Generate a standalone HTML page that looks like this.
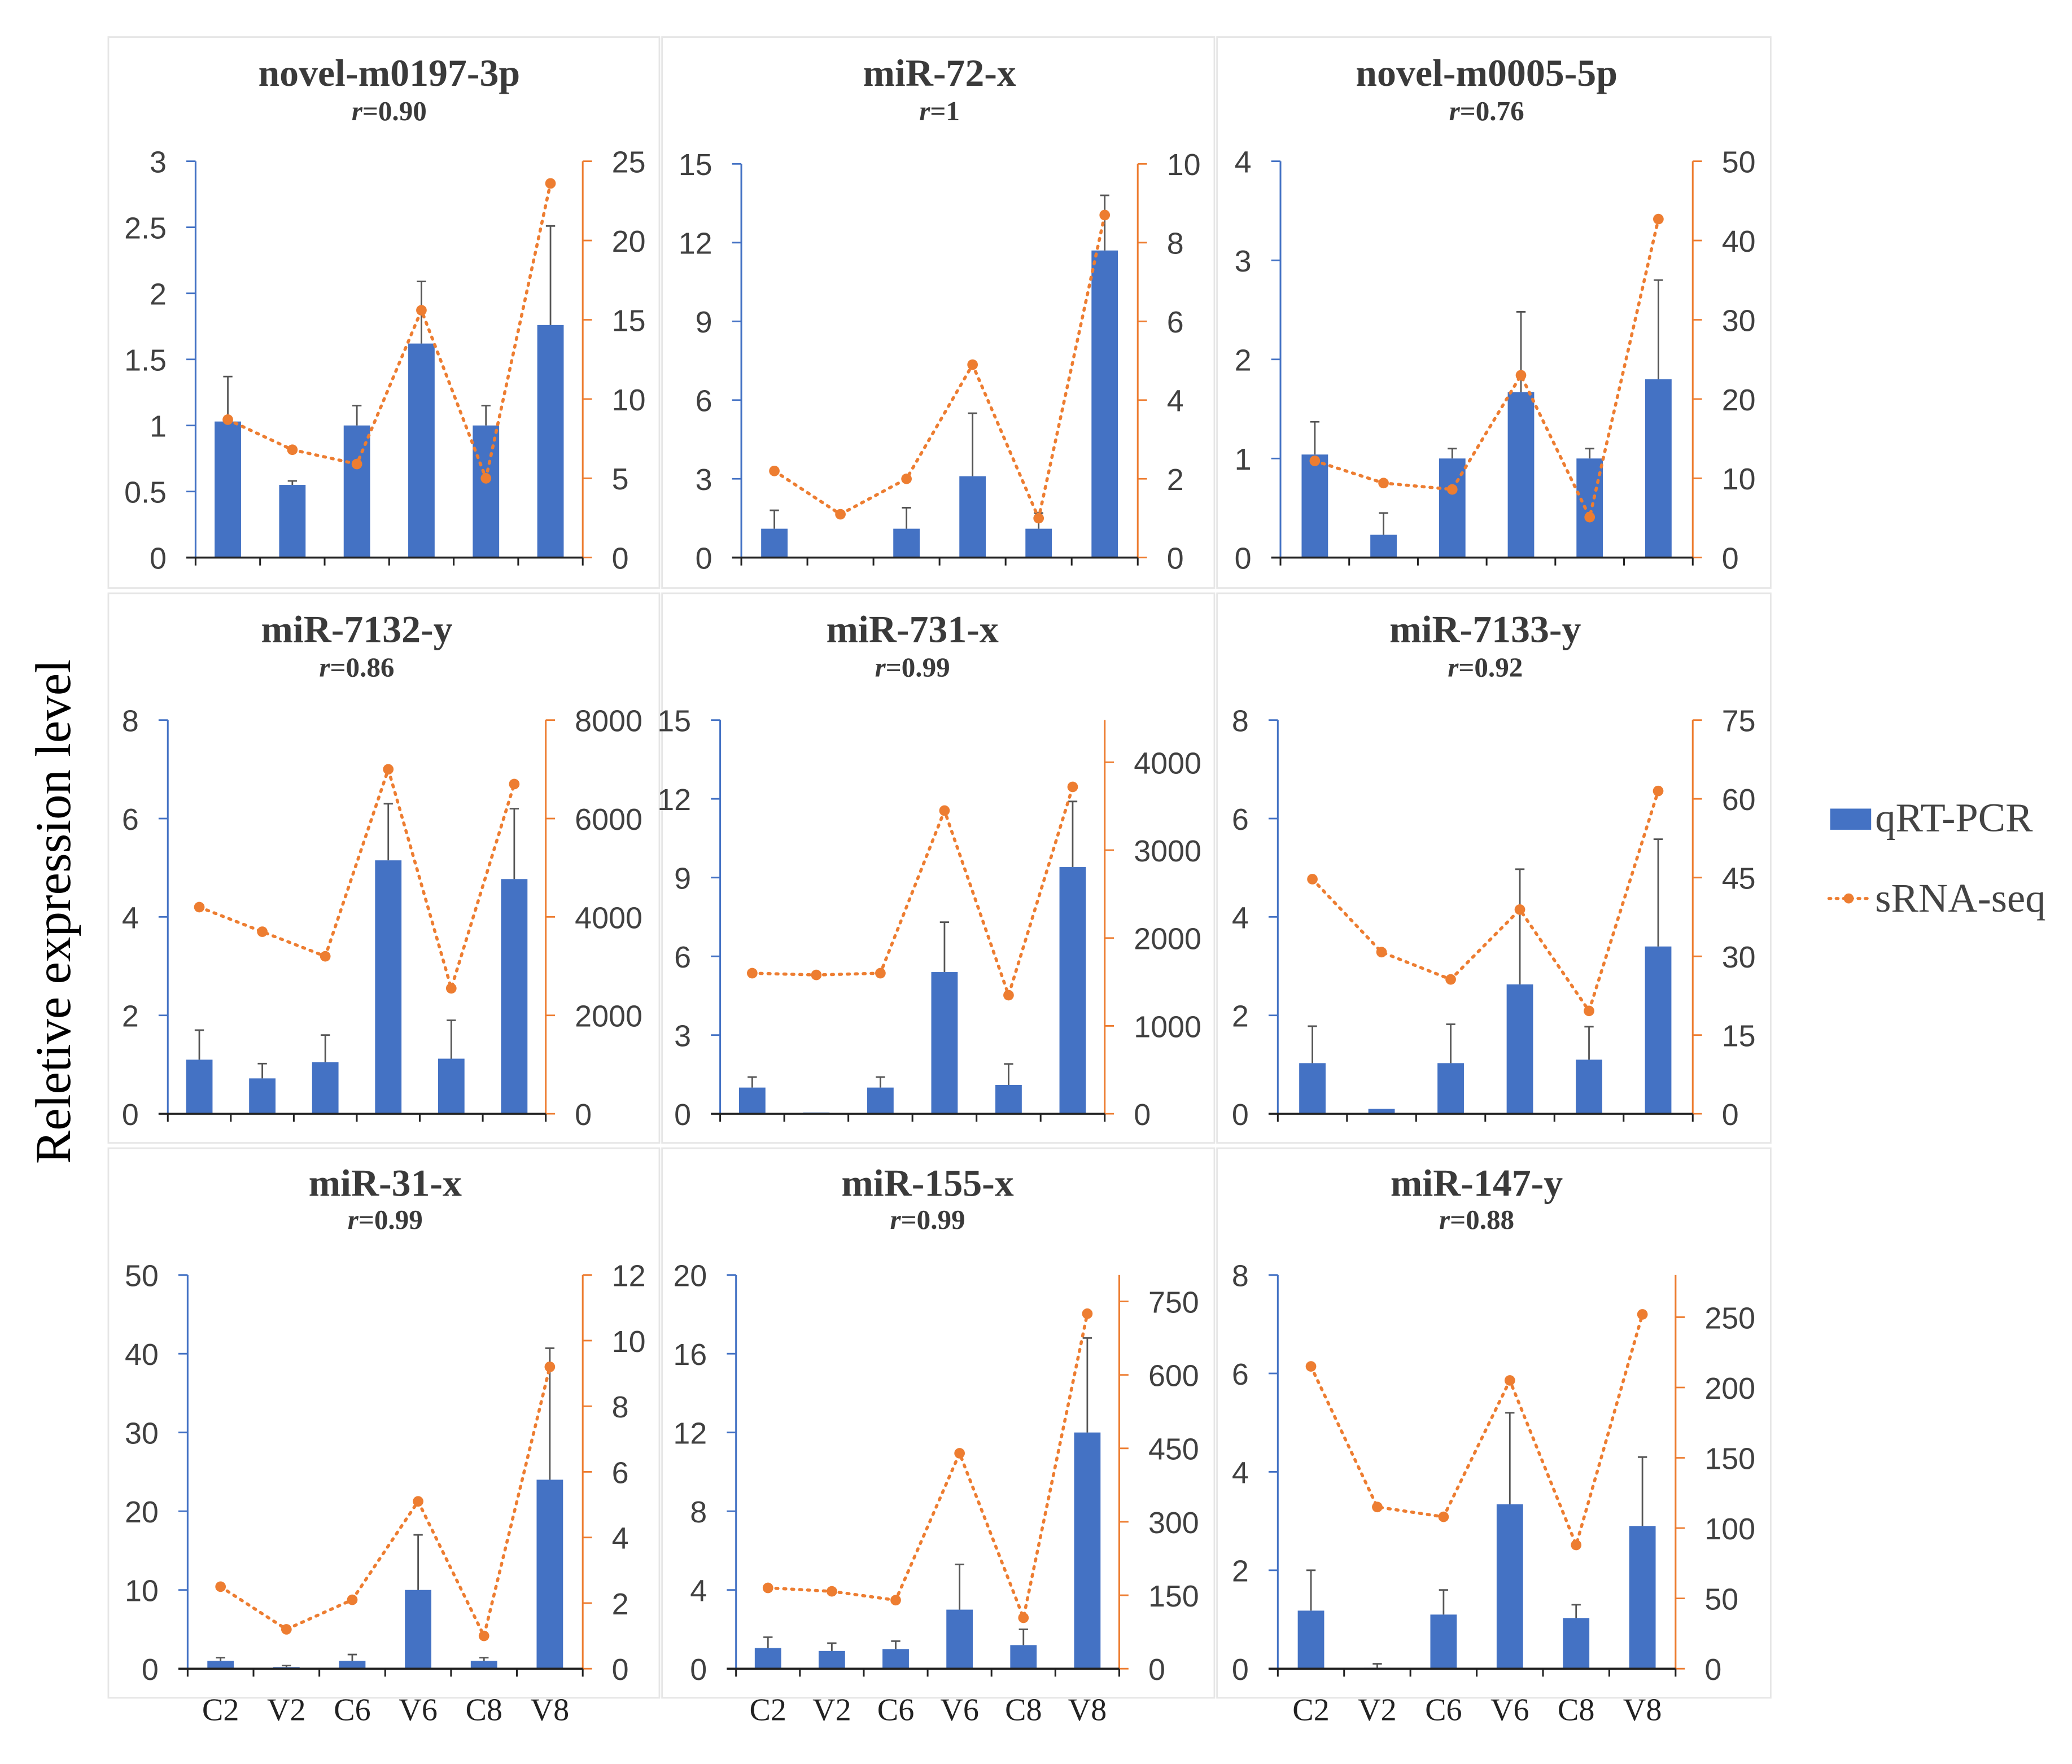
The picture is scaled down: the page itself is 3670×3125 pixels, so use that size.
<!DOCTYPE html>
<html><head><meta charset="utf-8"><style>
html,body{margin:0;padding:0;background:#fff;}
svg{display:block;}
</style></head><body>
<svg id="fig" width="3670" height="3125" viewBox="0 0 1568 1335.1" xmlns="http://www.w3.org/2000/svg">
<g id="panels"></g>
<text transform="translate(53,690) rotate(-90)" text-anchor="middle" font-family="Liberation Serif, serif" font-size="38" fill="#000">Reletive expression level</text>
<g>
<g>
<rect x="1385" y="612" width="31" height="16" fill="#4472C4"/>
<text x="1419" y="629" font-family="Liberation Serif, serif" font-size="31" fill="#444">qRT-PCR</text>
</g>
<g>
<line x1="1384" y1="680" x2="1414" y2="680" stroke="#ED7D31" stroke-width="2.2" stroke-dasharray="1.5 4" stroke-linecap="round"/>
<circle cx="1399" cy="680" r="3.8" fill="#ED7D31"/>
<text x="1419" y="690" font-family="Liberation Serif, serif" font-size="31" fill="#444">sRNA-seq</text>
</g>
</g>
</svg>
<script>
const categories = ["C2","V2","C6","V6","C8","V8"];
const titles = ["novel-m0197-3p","miR-72-x","novel-m0005-5p","miR-7132-y","miR-731-x","miR-7133-y","miR-31-x","miR-155-x","miR-147-y"];
const rValues = ["0.90","1","0.76","0.86","0.99","0.92","0.99","0.99","0.88"];
const qpcrBars = [
 [1.03,0.55,1.0,1.62,1.0,1.76],
 [1.1,0,1.1,3.1,1.1,11.7],
 [1.04,0.23,1.0,1.67,1.0,1.8],
 [1.1,0.72,1.05,5.15,1.12,4.77],
 [1.0,0.05,1.0,5.4,1.1,9.4],
 [1.03,0.1,1.03,2.63,1.1,3.4],
 [1.0,0.2,1.0,10,1.0,24],
 [1.05,0.9,1.0,3.0,1.2,12.0],
 [1.18,0.02,1.1,3.34,1.03,2.9]];
const qpcrErrTop = [
 [1.37,0.58,1.15,2.09,1.15,2.51],
 [1.8,0,1.9,5.5,1.7,13.8],
 [1.37,0.45,1.1,2.48,1.1,2.8],
 [1.7,1.02,1.6,6.3,1.9,6.2],
 [1.4,0.05,1.4,7.3,1.9,11.9],
 [1.78,0.1,1.82,4.97,1.77,5.58],
 [1.4,0.4,1.8,17,1.4,40.7],
 [1.6,1.3,1.4,5.3,2.0,16.8],
 [2.0,0.1,1.6,5.2,1.3,4.3]];
const seqValues = [
 [8.7,6.8,5.9,15.6,5.0,23.6],
 [2.2,1.1,2.0,4.9,1.0,8.7],
 [12.2,9.4,8.6,23,5.1,42.7],
 [4200,3700,3200,7000,2550,6700],
 [1600,1580,1600,3450,1350,3720],
 [44.7,30.8,25.6,38.9,19.6,61.5],
 [2.5,1.2,2.1,5.1,1.0,9.2],
 [165,158,140,440,104,725],
 [215,115,108,205,88,252]];
const leftTicks = [
 ["0","0.5","1","1.5","2","2.5","3"],
 ["0","3","6","9","12","15"],
 ["0","1","2","3","4"],
 ["0","2","4","6","8"],
 ["0","3","6","9","12","15"],
 ["0","2","4","6","8"],
 ["0","10","20","30","40","50"],
 ["0","4","8","12","16","20"],
 ["0","2","4","6","8"]];
const leftMax = [3,15,4,8,15,8,50,20,8];
const rightTicks = [
 ["0","5","10","15","20","25"],
 ["0","2","4","6","8","10"],
 ["0","10","20","30","40","50"],
 ["0","2000","4000","6000","8000"],
 ["0","1000","2000","3000","4000"],
 ["0","15","30","45","60","75"],
 ["0","2","4","6","8","10","12"],
 ["0","150","300","450","600","750"],
 ["0","50","100","150","200","250"]];
const rightMax = [25,10,50,8000,4480,75,12,804,280];

const boxes = [[82,28,417,417],[501,28,418,417],[921,28,419,417],[82,449,417,416],[501,449,418,416],[921,449,419,416],[82,869,417,416],[501,869,418,416],[921,869,419,416]];
const plotArea = [[148,441,122,422],[561,861,124,422],[969,1281,122,422],[127,413,545,843],[545,836,545,843],[967,1281,545,843],[142,441,965,1263],[557,847,965,1263],[967,1268,965,1263]];
const titleY = [[55,84],[55,84],[55,84],[476,505],[476,505],[476,505],[895,923],[895,923],[895,923]];

const NS="http://www.w3.org/2000/svg";
const root=document.getElementById('panels');
function el(tag,attrs,parent){const e=document.createElementNS(NS,tag);for(const k in attrs)e.setAttribute(k,attrs[k]);parent.appendChild(e);return e;}

titles.forEach((t,i)=>{
 const g=el('g',{},root);
 
 
 const b=boxes[i];
 const frame=el('rect',{x:b[0],y:b[1],width:b[2],height:b[3],fill:'none',stroke:'#e6e6e6','stroke-width':1.2},g);
 
 
 const [x0,x1,yT,yB]=plotArea[i];
 const cx=(x0+x1)/2;
 const tt=el('text',{x:cx,y:titleY[i][0]+10,'text-anchor':'middle','font-family':'Liberation Serif, serif','font-weight':'bold','font-size':29,fill:'#3a3a3a'},g);
 tt.textContent=t;
 
 
 const rt=el('text',{x:cx,y:titleY[i][1]+7,'text-anchor':'middle','font-family':'Liberation Serif, serif','font-weight':'bold','font-size':21,fill:'#3a3a3a'},g);
 rt.innerHTML='<tspan font-style="italic">r</tspan>='+rValues[i];
 
 
 const yL=v=>yB-(v/leftMax[i])*(yB-yT);
 const yR=v=>yB-(v/rightMax[i])*(yB-yT);
 const step=(x1-x0)/categories.length;
 const xC=k=>x0+step*(k+0.5);
 const la=el('line',{x1:x0,y1:yT,x2:x0,y2:yB,stroke:'#4472C4','stroke-width':1.3},g);
 
 
 leftTicks[i].forEach(s=>{const v=parseFloat(s);const y=yL(v);
  el('line',{x1:x0-7,y1:y,x2:x0,y2:y,stroke:'#4472C4','stroke-width':1.2},g);
  const tx=el('text',{x:x0-22,y:y+8.5,'text-anchor':'end','font-family':'Liberation Sans, sans-serif','font-size':23,fill:'#404040'},g);
  tx.textContent=s;
  
  });
 const ra=el('line',{x1:x1,y1:yT,x2:x1,y2:yB,stroke:'#ED7D31','stroke-width':1.3},g);
 
 
 rightTicks[i].forEach(s=>{const v=parseFloat(s);const y=yR(v);
  el('line',{x1:x1,y1:y,x2:x1+7,y2:y,stroke:'#ED7D31','stroke-width':1.2},g);
  const tx=el('text',{x:x1+22,y:y+8.5,'text-anchor':'start','font-family':'Liberation Sans, sans-serif','font-size':23,fill:'#404040'},g);
  tx.textContent=s;
  
  });
 categories.forEach((c,k)=>{
  const v=qpcrBars[i][k];const bw=20;
  const r=el('rect',{x:xC(k)-bw/2,y:yL(v),width:bw,height:yB-yL(v),fill:'#4472C4'},g);
  
  
  const e=qpcrErrTop[i][k];
  if(e>v){
   const eg=el('g',{stroke:'#555','stroke-width':1.2},g);
   
   
   el('line',{x1:xC(k),y1:yL(v),x2:xC(k),y2:yL(e)},eg);
   el('line',{x1:xC(k)-3.5,y1:yL(e),x2:xC(k)+3.5,y2:yL(e)},eg);
  }
 });
 const xa=el('line',{x1:x0-7,y1:yB,x2:x1,y2:yB,stroke:'#222','stroke-width':1.5},g);
 
 
 for(let k=0;k<=categories.length;k++){el('line',{x1:x0+step*k,y1:yB,x2:x0+step*k,y2:yB+6,stroke:'#222','stroke-width':1.3},g);}
 if(i>=6){categories.forEach((c,k)=>{
  const tx=el('text',{x:xC(k),y:1302,'text-anchor':'middle','font-family':'Liberation Serif, serif','font-size':24,fill:'#222'},g);
  tx.textContent=c;
  
  });}
 const pts=seqValues[i].map((v,k)=>xC(k)+','+yR(v)).join(' ');
 const pl=el('polyline',{points:pts,fill:'none',stroke:'#ED7D31','stroke-width':2.4,'stroke-dasharray':'1.5 4.5','stroke-linecap':'round'},g);
 
 
 seqValues[i].forEach((v,k)=>{
  const p=el('circle',{cx:xC(k),cy:yR(v),r:4,fill:'#ED7D31'},g);
  
  });
});
</script>
</body></html>
